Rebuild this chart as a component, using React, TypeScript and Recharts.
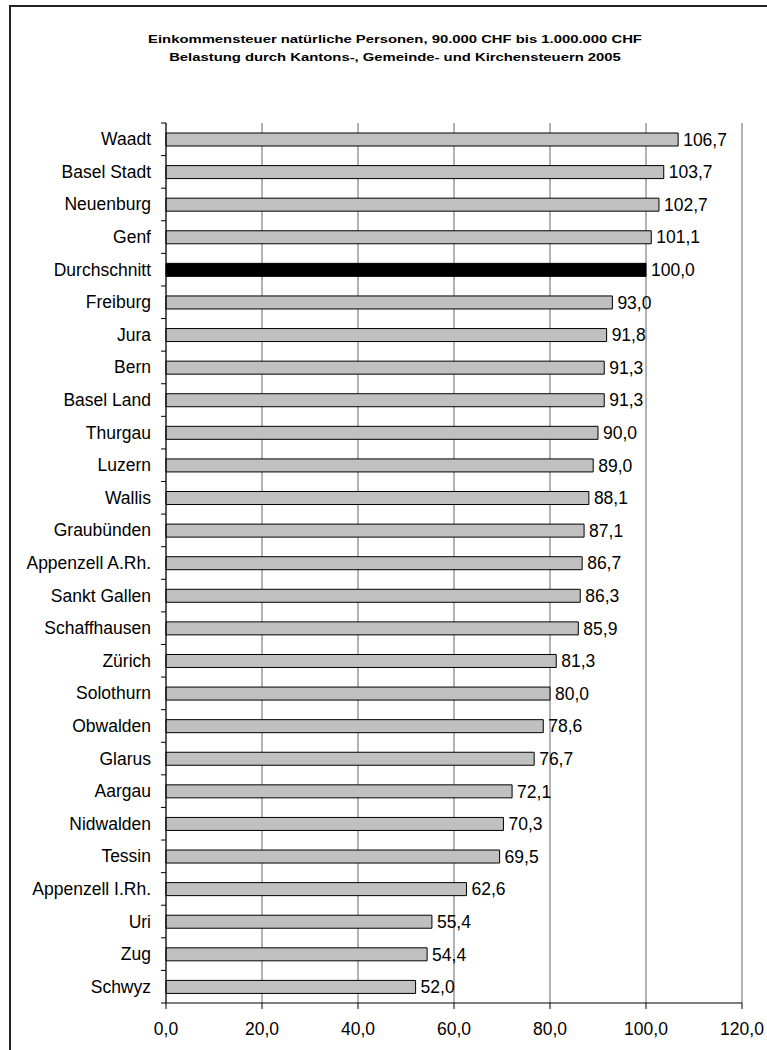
import React from "react";
import { BarChart, Bar, XAxis, YAxis, CartesianGrid, Cell, LabelList } from "recharts";

const categories = [
  "Waadt", "Basel Stadt", "Neuenburg", "Genf", "Durchschnitt", "Freiburg", "Jura", "Bern",
  "Basel Land", "Thurgau", "Luzern", "Wallis", "Graubünden", "Appenzell A.Rh.", "Sankt Gallen",
  "Schaffhausen", "Zürich", "Solothurn", "Obwalden", "Glarus", "Aargau", "Nidwalden", "Tessin",
  "Appenzell I.Rh.", "Uri", "Zug", "Schwyz",
];
const values = [
  106.7, 103.7, 102.7, 101.1, 100.0, 93.0, 91.8, 91.3, 91.3, 90.0, 89.0, 88.1, 87.1, 86.7, 86.3,
  85.9, 81.3, 80.0, 78.6, 76.7, 72.1, 70.3, 69.5, 62.6, 55.4, 54.4, 52.0,
];
const highlight = "Durchschnitt";
const xTicks = [0, 20, 40, 60, 80, 100, 120];
const titleLines = [
  "Einkommensteuer natürliche Personen, 90.000 CHF bis 1.000.000 CHF",
  "Belastung durch Kantons-, Gemeinde- und Kirchensteuern 2005",
];

const data = categories.map((name, i) => ({ name, value: values[i] }));

const W = 767;
const H = 1050;
const X_AXIS_H = 30;
const MARGIN = { top: 123, right: 25, bottom: 17, left: 0 };
const PLOT_H = H - MARGIN.top - MARGIN.bottom - X_AXIS_H;
const BAND = PLOT_H / categories.length;
const FONT = "'Liberation Sans', Arial, sans-serif";
const FS = 17.5;
const TICK_SIZE = 5;
const TICK_MARGIN = 10;

const fmt = (v: number) => v.toFixed(1).replace(".", ",");

const CatTick = (props: any) => {
  const { x, y, payload, index, visibleTicksCount } = props;
  const lx1 = x + TICK_MARGIN;
  const lx2 = x + TICK_MARGIN + TICK_SIZE;
  const isLast = index === (visibleTicksCount ?? categories.length) - 1;
  return (
    <g>
      <line x1={lx1} x2={lx2} y1={y - BAND / 2} y2={y - BAND / 2} stroke="#000" />
      {isLast && <line x1={lx1} x2={lx2} y1={y + BAND / 2} y2={y + BAND / 2} stroke="#000" />}
      <text x={x} y={y} textAnchor="end" dominantBaseline="central" fontSize={FS} fontFamily={FONT} fill="#000">
        {payload.value}
      </text>
    </g>
  );
};

export default function App() {
  return (
    <div style={{ position: "absolute", left: 0, top: 0, width: W, height: H, overflow: "hidden", background: "#fff" }}>
      <div
        style={{
          position: "absolute",
          left: 9,
          top: 5,
          width: 800,
          height: 1100,
          border: "2px solid #222",
          boxSizing: "border-box",
        }}
      />
      <div
        style={{
          position: "absolute",
          left: 0,
          top: 30,
          width: 790,
          textAlign: "center",
          fontFamily: FONT,
          fontWeight: "bold",
          fontSize: 11.5,
          lineHeight: "18px",
          color: "#000",
          transform: "scaleX(1.29)",
          transformOrigin: "395px 0",
        }}
      >
        {titleLines.map((t) => (
          <div key={t}>{t}</div>
        ))}
      </div>
      <div style={{ position: "absolute", left: 0, top: 0 }}>
        <BarChart width={W} height={H} data={data} layout="vertical" margin={MARGIN}>
          <CartesianGrid horizontal={false} stroke="#666" />
          <XAxis
            type="number"
            domain={[0, 120]}
            ticks={xTicks}
            tickFormatter={fmt}
            height={X_AXIS_H}
            tickSize={6}
            tickMargin={14}
            axisLine={{ stroke: "#000" }}
            tickLine={{ stroke: "#000" }}
            tick={{ fill: "#000", fontSize: FS, fontFamily: FONT }}
            interval={0}
          />
          <XAxis
            xAxisId="top"
            type="number"
            domain={[0, 120]}
            orientation="top"
            height={0}
            tick={false}
            tickLine={false}
            axisLine={{ stroke: "#999" }}
          />
          <YAxis
            type="category"
            dataKey="name"
            width={166}
            tickSize={TICK_SIZE}
            tickMargin={TICK_MARGIN}
            tickLine={false}
            axisLine={{ stroke: "#000" }}
            tick={<CatTick />}
            interval={0}
          />
          <Bar dataKey="value" barSize={13} stroke="#000" strokeWidth={1} isAnimationActive={false}>
            {data.map((d) => (
              <Cell key={d.name} fill={d.name === highlight ? "#000" : "#c0c0c0"} />
            ))}
            <LabelList
              dataKey="value"
              position="right"
              offset={5}
              formatter={(v: any) => fmt(Number(v))}
              fill="#000"
              fontSize={FS}
              fontFamily={FONT}
            />
          </Bar>
        </BarChart>
      </div>
    </div>
  );
}
